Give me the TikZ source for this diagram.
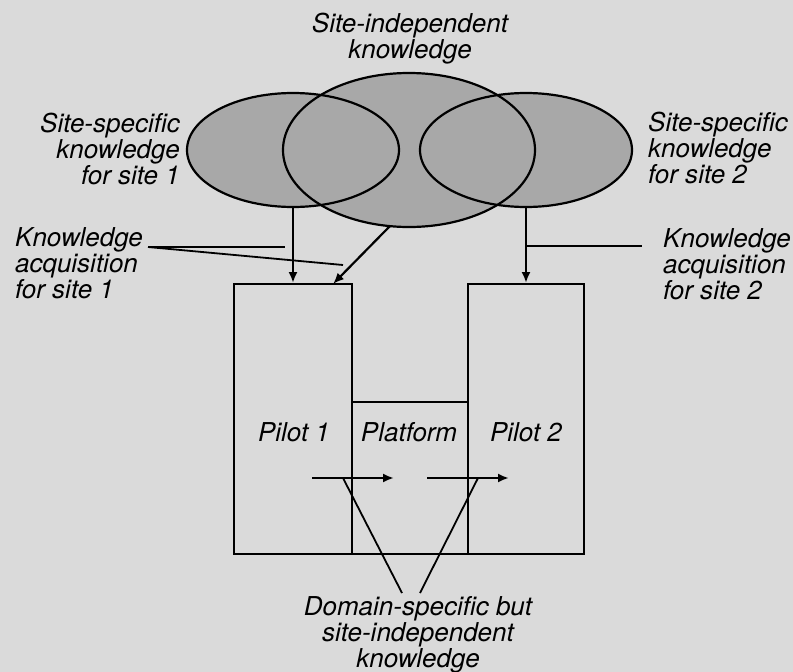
\documentclass[tikz,border=0pt]{standalone}
\usepackage{fontspec}
\setmainfont{TeX Gyre Heros}
\usetikzlibrary{shapes.geometric,arrows.meta}
\definecolor{bgc}{HTML}{DADADA}
\definecolor{elc}{HTML}{A8A8A8}
\tikzset{
  lbl/.style={font=\fontsize{26}{26}\selectfont\itshape, inner sep=0pt},
  ell/.style={ellipse, fill=elc, inner sep=0pt},
  ellline/.style={ellipse, draw=black, line width=2.2pt, inner sep=0pt},
  boxn/.style={rectangle, draw=black, line width=2pt, inner sep=0pt},
  arr/.style={line width=2.2pt, -{Latex[length=11pt,width=9pt]}},
  lead/.style={line width=1.8pt}
}
\begin{document}
\begin{tikzpicture}[x=1pt,y=-1pt]
\fill[bgc] (0,0) rectangle (793,672);
\useasboundingbox (0,0) rectangle (793,672);
% ellipse fills
\node[ell, minimum width=212pt, minimum height=114pt] (f1) at (293,150) {};
\node[ell, minimum width=252pt, minimum height=154pt] (f2) at (409,150) {};
\node[ell, minimum width=212pt, minimum height=114pt] (f3) at (526,150) {};
% ellipse outlines
\node[ellline, minimum width=212pt, minimum height=114pt] (e1) at (293,150) {};
\node[ellline, minimum width=252pt, minimum height=154pt] (e2) at (409,150) {};
\node[ellline, minimum width=212pt, minimum height=114pt] (e3) at (526,150) {};
% boxes
\node[boxn, minimum width=118pt, minimum height=270pt] (p1) at (293,419) {};
\node[boxn, minimum width=116pt, minimum height=152pt] (pf) at (410,478) {};
\node[boxn, minimum width=116pt, minimum height=270pt] (p2) at (526,419) {};
% box labels
\node[lbl] (t1) at (294,432) {Pilot 1};
\node[lbl] (tf) at (409,432) {Platform};
\node[lbl] (t2) at (526,432) {Pilot 2};
% outer labels
\node[lbl, align=center] (si) at (410,39) {Site-independent\\knowledge};
\node[lbl, align=right, anchor=east] (ss1) at (180,149) {Site-specific\\knowledge\\for site 1};
\node[lbl, align=left, anchor=west] (ss2) at (648,148) {Site-specific\\knowledge\\for site 2};
\node[lbl, align=left, anchor=west] (ka1) at (15,263) {Knowledge\\acquisition\\for site 1};
\node[lbl, align=left, anchor=west] (ka2) at (663,264) {Knowledge\\acquisition\\for site 2};
\node[lbl, align=center] (dk) at (418,635) {Domain-specific but\\site-independent\\knowledge};
% acquisition arrows
\coordinate (d0) at (390,226);
\coordinate (d1) at (333,284);
\draw[arr] (e1.south) -- (p1.north);
\draw[arr] (d0) -- (d1);
\draw[arr] (e3.south) -- (p2.north);
% leader lines
\coordinate (k1) at (148,247);
\coordinate (k1a) at (285,247);
\coordinate (k1b) at (343,265);
\coordinate (k2a) at (526,246);
\coordinate (k2) at (642,246);
\draw[lead] (k1) -- (k1a);
\draw[lead] (k1) -- (k1b);
\draw[lead] (k2a) -- (k2);
% inner arrows
\coordinate (a1s) at (312,478);
\coordinate (a1e) at (394,478);
\coordinate (a2s) at (427,478);
\coordinate (a2e) at (509,478);
\draw[arr] (a1s) -- (a1e);
\draw[arr] (a2s) -- (a2e);
% domain leaders
\coordinate (b1) at (343,478);
\coordinate (b2) at (478,478);
\coordinate (c1) at (402,593);
\coordinate (c2) at (420,593);
\draw[lead] (b1) -- (c1);
\draw[lead] (b2) -- (c2);
\end{tikzpicture}
\end{document}
